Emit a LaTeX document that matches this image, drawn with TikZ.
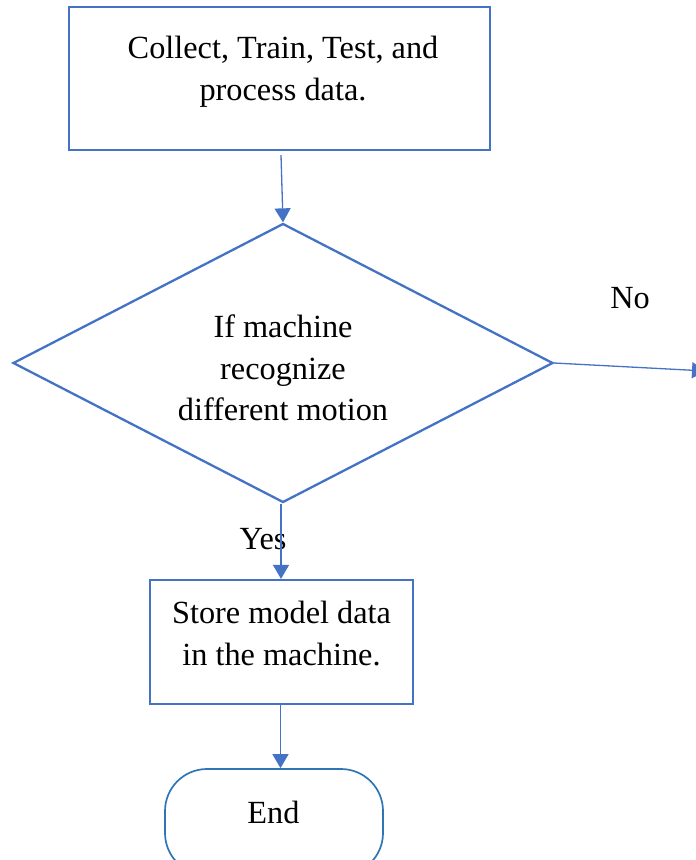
\documentclass[tikz,border=0pt]{standalone}
\usepackage{fontspec}
\setmainfont{Liberation Serif}
\usetikzlibrary{arrows.meta,shapes.geometric}
\definecolor{flowblue}{HTML}{4472C4}
\definecolor{termblue}{HTML}{2E75B6}

\begin{document}
\begin{tikzpicture}[x=1pt,y=-1pt,
  every node/.style={font=\fontsize{32.3}{41.5}\selectfont, text=black},
  procbox/.style={draw=flowblue, line width=2.2pt, rectangle, inner sep=0pt},
  decision/.style={draw=flowblue, line width=2.3pt, diamond, shape aspect=1.935, inner sep=0pt},
  terminal/.style={draw=termblue, line width=1.7pt, rectangle, rounded corners=42pt, inner sep=0pt},
  txt/.style={align=center, inner sep=0pt},
  lbl/.style={inner sep=0pt, anchor=base},
  arr/.style={draw=flowblue, line width=1.3pt, -{Triangle[width=16pt,length=14pt]}}
]
\useasboundingbox (0,0) rectangle (696,860);
\clip (0,0) rectangle (696,860);

% shapes
\node[procbox, minimum width=421pt, minimum height=143pt] (collect) at (279.5,78.5) {};
\node[decision, minimum width=540pt, minimum height=279pt] (check) at (283,363) {};
\node[procbox, minimum width=263pt, minimum height=124pt] (store) at (281.5,642) {};
\node[terminal, minimum width=218pt, minimum height=106pt] (end) at (274,822) {};

% texts inside the shapes
\node[txt] (collect-t) at ([xshift=3.5pt,yshift=7pt]collect.center) {Collect, Train, Test, and\\process data.};
\node[txt] (check-t) at ([yshift=-5pt]check.center) {If machine\\recognize\\different motion};
\node[txt] (store-t) at ([yshift=8.5pt]store.center) {Store model data\\in the machine.};
\node[txt] (end-t) at (273.5,812) {End};

% branch labels
\node[lbl] (no) at (630,308) {No};
\node[lbl] (yes) at (263,549) {Yes};

% loose end of the "No" branch
\coordinate (noend) at (706,371);

% connectors
\draw[arr] ([xshift=1.5pt,yshift=-4pt]collect.south) -- (check.north);
\draw[arr] (check.east) -- (noend);
\draw[arr] ([xshift=-2pt]check.south) -- ([xshift=-0.5pt]store.north);
\draw[arr] ([xshift=-1pt]store.south) -- ([xshift=-1pt]store.south |- end.north);
\end{tikzpicture}
\end{document}
